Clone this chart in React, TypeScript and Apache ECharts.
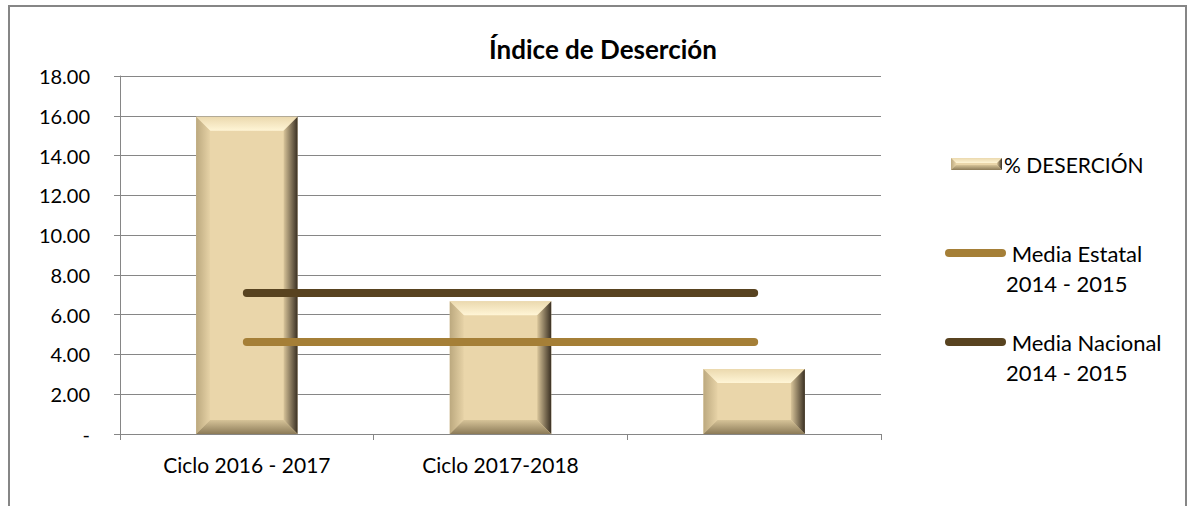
import React, { useEffect, useRef } from "react";
import * as echarts from "echarts";

const categories = ["Ciclo 2016 - 2017", "Ciclo 2017-2018", ""];
const desercion = [15.95, 6.68, 3.27];
const mediaEstatal = [4.63, 4.63, 4.63];
const mediaNacional = [7.09, 7.09, 7.09];
const yTicks = { min: 0, max: 18, interval: 2 };

const FONT = "Lato";
const BASE = "#EAD6AA";

function lin(x1: number, y1: number, x2: number, y2: number, c1: string, c2: string) {
  return new echarts.graphic.LinearGradient(x1, y1, x2, y2, [
    { offset: 0, color: c1 },
    { offset: 1, color: c2 },
  ]);
}

function bevelBox(x0: number, y0: number, w: number, h: number, bIn: number) {
  const x1 = x0 + w;
  const y1 = y0 + h;
  const b = Math.min(bIn, h / 2, w / 2);
  return [
    { type: "rect", shape: { x: x0, y: y0, width: w, height: h }, style: { fill: BASE } },
    {
      type: "polygon",
      shape: { points: [[x0, y0], [x1, y0], [x1 - b, y0 + b], [x0 + b, y0 + b]] },
      style: { fill: lin(0, 0, 0, 1, "#EBD9AE", "#FFF5D6") },
    },
    {
      type: "polygon",
      shape: { points: [[x0, y0], [x0 + b, y0 + b], [x0 + b, y1 - b], [x0, y1]] },
      style: { fill: lin(0, 0, 1, 0, "#BCA97F", "#E6D2A6") },
    },
    {
      type: "polygon",
      shape: { points: [[x1, y0], [x1, y1], [x1 - b, y1 - b], [x1 - b, y0 + b]] },
      style: { fill: lin(0, 0, 1, 0, "#D9C59A", "#3A3023") },
    },
    {
      type: "polygon",
      shape: { points: [[x0, y1], [x1, y1], [x1 - b, y1 - b], [x0 + b, y1 - b]] },
      style: { fill: lin(0, 0, 0, 1, "#D6C398", "#8C7B58") },
    },
  ];
}

export default function App() {
  const ref = useRef<HTMLDivElement>(null);
  useEffect(() => {
    if (!ref.current) return;
    const chart = echarts.init(ref.current, null, { renderer: "svg" });
    const option: any = {
      animation: false,
      backgroundColor: "#ffffff",
      title: {
        text: "Índice de Deserción",
        left: 598,
        top: 31,
        textAlign: "center",
        textStyle: { fontFamily: FONT, fontWeight: "bold", fontSize: 26, color: "#000" },
      },
      grid: { left: 120, right: 306, top: 76, bottom: 72 },
      xAxis: {
        type: "category",
        data: categories,
        boundaryGap: true,
        axisLine: { lineStyle: { color: "#868686", width: 1 } },
        axisTick: { show: true, length: 6, alignWithLabel: false, lineStyle: { color: "#868686" } },
        axisLabel: { fontFamily: FONT, fontSize: 21, color: "#000", margin: 20 },
      },
      yAxis: {
        type: "value",
        min: yTicks.min,
        max: yTicks.max,
        interval: yTicks.interval,
        axisLine: { show: true, lineStyle: { color: "#868686" } },
        axisTick: { show: true, length: 6, lineStyle: { color: "#868686" } },
        splitLine: { lineStyle: { color: "#868686", width: 1 } },
        axisLabel: {
          fontFamily: FONT,
          fontSize: 20,
          color: "#000",
          margin: 30,
          formatter: (v: number) => (v === 0 ? "-" : v.toFixed(2)),
        },
      },
      series: [
        {
          name: "% DESERCIÓN",
          type: "custom",
          data: desercion.map((v, i) => [i, v]),
          encode: { x: 0, y: 1 },
          z: 2,
          renderItem: (params: any, api: any) => {
            const idx = api.value(0);
            const v = api.value(1);
            const top = api.coord([idx, v]);
            const bot = api.coord([idx, 0]);
            const w = api.size([1, 0])[0] * 0.4;
            return {
              type: "group",
              children: bevelBox(top[0] - w / 2, top[1], w, bot[1] - top[1], 14),
            };
          },
        },
        {
          name: "Media Estatal 2014 - 2015",
          type: "line",
          data: mediaEstatal,
          showSymbol: false,
          symbol: "none",
          z: 3,
          lineStyle: { color: "#A57F37", width: 8, cap: "round" },
        },
        {
          name: "Media Nacional 2014 - 2015",
          type: "line",
          data: mediaNacional,
          showSymbol: false,
          symbol: "none",
          z: 3,
          lineStyle: { color: "#584320", width: 8, cap: "round" },
        },
      ],
      graphic: [
        {
          type: "rect",
          shape: { x: 9, y: 6, width: 1177, height: 530 },
          style: { fill: "none", stroke: "#868686", lineWidth: 2 },
          silent: true,
          z: -10,
        },
        {
          type: "group",
          children: bevelBox(951, 158, 51, 12, 5),
        },
        {
          type: "text",
          x: 1004,
          y: 164,
          style: { text: "% DESERCIÓN", fontFamily: FONT, fontSize: 21, fill: "#000", verticalAlign: "middle" },
        },
        {
          type: "line",
          shape: { x1: 949, y1: 253, x2: 1002, y2: 253 },
          style: { stroke: "#A57F37", lineWidth: 8, lineCap: "round" },
        },
        {
          type: "text",
          x: 1006,
          y: 238,
          style: {
            text: " Media Estatal\n2014 - 2015",
            fontFamily: FONT,
            fontSize: 22,
            lineHeight: 30,
            fill: "#000",
          },
        },
        {
          type: "line",
          shape: { x1: 949, y1: 342, x2: 1002, y2: 342 },
          style: { stroke: "#584320", lineWidth: 8, lineCap: "round" },
        },
        {
          type: "text",
          x: 1006,
          y: 327,
          style: {
            text: " Media Nacional\n2014 - 2015",
            fontFamily: FONT,
            fontSize: 22,
            lineHeight: 30,
            fill: "#000",
          },
        },
      ],
    };
    chart.setOption(option);
    return () => chart.dispose();
  }, []);
  return (
    <div
      ref={ref}
      style={{ position: "fixed", left: 0, top: 0, width: 1187, height: 506 }}
    />
  );
}
